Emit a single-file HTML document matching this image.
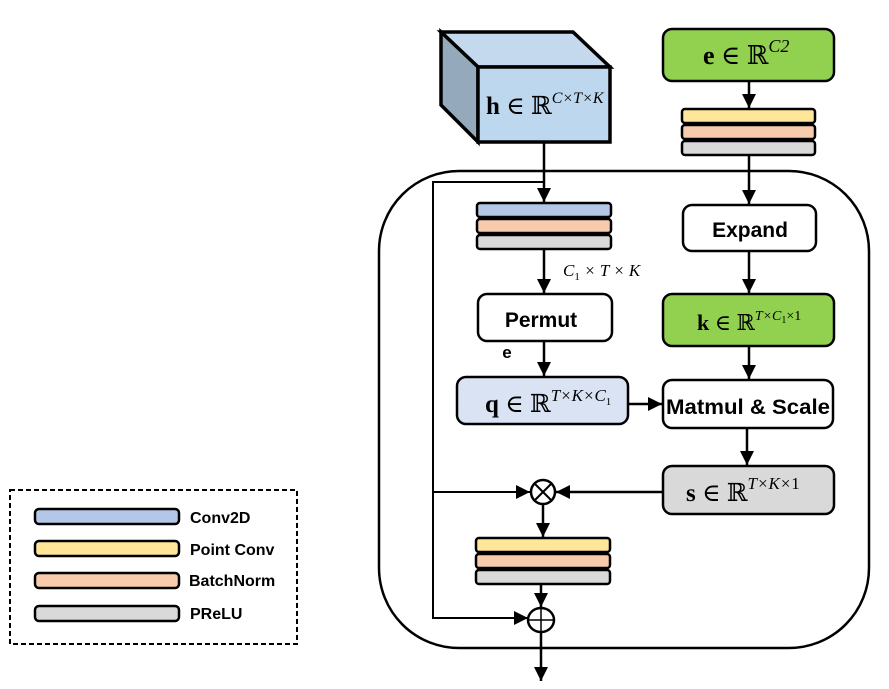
<!DOCTYPE html>
<html><head><meta charset="utf-8"><style>
html,body{margin:0;padding:0;background:#fff;}
svg{display:block;}
.b{font-family:"Liberation Sans","DejaVu Sans",sans-serif;font-weight:bold;fill:#000;}
.m{font-family:"Liberation Serif","DejaVu Serif",serif;fill:#000;}
</style></head><body>
<svg width="889" height="689" viewBox="0 0 889 689" xmlns="http://www.w3.org/2000/svg">
<defs>
<marker id="A" viewBox="0 0 10 10" markerWidth="14" markerHeight="14" refX="10" refY="5" orient="auto" markerUnits="userSpaceOnUse">
<path d="M0,0 L10,5 L0,10 z" fill="#000"/></marker>
</defs>
<rect x="379" y="171" width="490" height="477" rx="80" ry="80" fill="none" stroke="#000" stroke-width="2.5"/>
<!-- cube -->
<g stroke="#000" stroke-width="3.5" stroke-linejoin="miter">
<polygon points="441,32 573,32 610,67 478,67" fill="#c4d9ee"/>
<polygon points="441,32 478,67 478,142 441,105" fill="#94a9bc"/>
<rect x="478" y="67" width="132" height="75" fill="#bdd7ee"/>
</g>
<text x="486" y="114" class="m" style="font-size:25px"><tspan font-weight="bold">h</tspan> ∈ ℝ<tspan style="font-size:16px;font-style:italic" dy="-11">C×T×K</tspan></text>
<!-- e box -->
<rect x="663" y="29" width="171" height="52" rx="9" fill="#92d050" stroke="#000" stroke-width="2.5"/>
<text x="703" y="64" class="m" style="font-size:26px"><tspan font-weight="bold">e</tspan> ∈ ℝ<tspan style="font-size:18px;font-style:italic" dy="-12">C2</tspan></text>
<g stroke="#000" stroke-width="2.5">
<rect x="682" y="109" width="133" height="14" rx="3" fill="#ffe699"/>
<rect x="682" y="125" width="133" height="14" rx="3" fill="#f8cbad"/>
<rect x="682" y="141" width="133" height="14" rx="3" fill="#d9d9d9"/>
<rect x="477" y="203" width="134" height="14" rx="3" fill="#b4c7e7"/>
<rect x="477" y="219" width="134" height="14" rx="3" fill="#f8cbad"/>
<rect x="477" y="235" width="134" height="14" rx="3" fill="#d9d9d9"/>
<rect x="476" y="538" width="134" height="14" rx="3" fill="#ffe699"/>
<rect x="476" y="554" width="134" height="14" rx="3" fill="#f8cbad"/>
<rect x="476" y="570" width="134" height="14" rx="3" fill="#d9d9d9"/>
</g>
<g stroke="#000" stroke-width="2.5">
<rect x="683" y="205" width="133" height="46" rx="9" fill="#fff"/>
<rect x="478" y="294" width="134" height="47" rx="9" fill="#fff"/>
<rect x="663" y="294" width="171" height="52" rx="9" fill="#92d050"/>
<rect x="457" y="377" width="171" height="47" rx="9" fill="#dae3f3"/>
<rect x="663" y="380" width="170" height="48" rx="9" fill="#fff"/>
<rect x="663" y="466" width="171" height="48" rx="9" fill="#d9d9d9"/>
</g>
<text x="750" y="237" class="b" style="font-size:21px" text-anchor="middle">Expand</text>
<text x="541" y="327" class="b" style="font-size:21px" text-anchor="middle">Permut</text>
<text x="507" y="358" class="b" style="font-size:17px" text-anchor="middle">e</text>
<text x="748" y="414" class="b" style="font-size:21px" text-anchor="middle" textLength="164" lengthAdjust="spacingAndGlyphs">Matmul &amp; Scale</text>
<text x="697" y="330" class="m" style="font-size:22px"><tspan font-weight="bold">k</tspan> ∈ ℝ<tspan style="font-size:14px;font-style:italic" dy="-10">T×C</tspan><tspan style="font-size:10px" dy="3">1</tspan><tspan style="font-size:14px" dy="-3">×1</tspan></text>
<text x="485" y="412" class="m" style="font-size:25px"><tspan font-weight="bold">q</tspan> ∈ ℝ<tspan style="font-size:17px;font-style:italic" dy="-11">T×K×C</tspan><tspan style="font-size:11px" dy="4">1</tspan></text>
<text x="686" y="501" class="m" style="font-size:25px"><tspan font-weight="bold">s</tspan> ∈ ℝ<tspan style="font-size:17px;font-style:italic" dy="-12">T×K×</tspan><tspan style="font-size:17px">1</tspan></text>
<text x="563" y="276" class="m" style="font-size:17px;font-style:italic">C<tspan style="font-size:11px;font-style:normal" dy="4">1</tspan><tspan dy="-4"> × T × K</tspan></text>
<g stroke="#000" stroke-width="2.5" fill="none">
<line x1="749" y1="81" x2="749" y2="108" marker-end="url(#A)"/>
<line x1="749" y1="155" x2="749" y2="204" marker-end="url(#A)"/>
<line x1="749" y1="251" x2="749" y2="293" marker-end="url(#A)"/>
<line x1="749" y1="346" x2="749" y2="379" marker-end="url(#A)"/>
<line x1="747" y1="428" x2="747" y2="465" marker-end="url(#A)"/>
<line x1="544" y1="142" x2="544" y2="202" marker-end="url(#A)"/>
<line x1="544" y1="249" x2="544" y2="293" marker-end="url(#A)"/>
<line x1="544" y1="341" x2="544" y2="376" marker-end="url(#A)"/>
<line x1="629" y1="404" x2="662" y2="404" marker-end="url(#A)"/>
<line x1="663" y1="492" x2="556" y2="492" marker-end="url(#A)"/>
<line x1="543" y1="504" x2="543" y2="537" marker-end="url(#A)"/>
<line x1="541" y1="584" x2="541" y2="607" marker-end="url(#A)"/>
<line x1="541" y1="633" x2="541" y2="681" marker-end="url(#A)"/>
<polyline points="544,182 433,182 433,618 528,618" marker-end="url(#A)" stroke-width="2"/>
<line x1="433" y1="492" x2="530" y2="492" stroke-width="2" marker-end="url(#A)"/>
<circle cx="543" cy="492" r="12" fill="#fff"/>
<line x1="534.5" y1="483.5" x2="551.5" y2="500.5" stroke-width="2"/>
<line x1="551.5" y1="483.5" x2="534.5" y2="500.5" stroke-width="2"/>
<ellipse cx="541" cy="620" rx="13" ry="12" fill="#fff"/>
<line x1="528" y1="620" x2="554" y2="620" stroke-width="1.5"/>
<line x1="541" y1="608" x2="541" y2="632" stroke-width="1.5"/>
</g>
<rect x="10" y="490" width="287" height="154" fill="none" stroke="#000" stroke-width="2" stroke-dasharray="5,3"/>
<g stroke="#000" stroke-width="2.5">
<rect x="35" y="509" width="144" height="15" rx="4" fill="#b4c7e7"/>
<rect x="35" y="541" width="144" height="15" rx="4" fill="#ffe699"/>
<rect x="35" y="573" width="144" height="15" rx="4" fill="#f8cbad"/>
<rect x="35" y="606" width="144" height="15" rx="4" fill="#d9d9d9"/>
</g>
<g class="b" style="font-size:16px">
<text x="190" y="523">Conv2D</text>
<text x="190" y="555">Point Conv</text>
<text x="189" y="586">BatchNorm</text>
<text x="190" y="619">PReLU</text>
</g>
</svg>
</body></html>
